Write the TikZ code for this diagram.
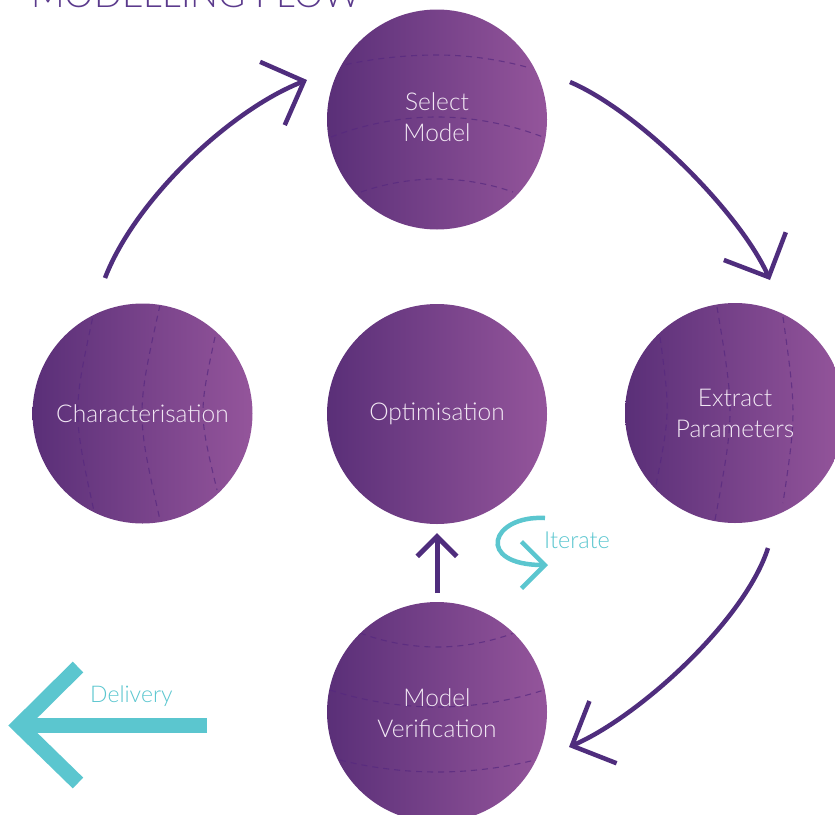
\documentclass[tikz,border=0pt]{standalone}
\usepackage{fontspec}
\setmainfont{Lato Light}
\usetikzlibrary{arrows.meta,calc}
\definecolor{sphL}{HTML}{5A2F78}
\definecolor{sphR}{HTML}{94559B}
\definecolor{flowc}{HTML}{4F2D7D}
\definecolor{cyanc}{HTML}{5BC6CF}
\definecolor{dashc}{HTML}{56287F}
\definecolor{labc}{HTML}{F2E8F4}
\definecolor{titlec}{HTML}{5B3A8C}
\tikzset{
  sphere/.style={circle, minimum size=220pt, inner sep=0pt, left color=sphL, right color=sphR},
  sphlabel/.style={text=labc, font=\fontsize{24.5}{31}\selectfont, align=center, inner sep=0pt},
  lat/.style={dashc, opacity=0.7, line width=1.1pt, dash pattern=on 6pt off 5pt},
  flow/.style={flowc, line width=4.5pt, -{Straight Barb[angle=90:48pt]}},
  cyanlab/.style={anchor=base west, inner sep=0pt, text=cyanc}
}
\begin{document}
\begin{tikzpicture}[x=1pt,y=-1pt]
\useasboundingbox (0,0) rectangle (835,814);
\clip (0,0) rectangle (835,814);

% title (cut off by the top edge, as in the reference)
\node[anchor=base west, inner sep=0pt, text=titlec, font=\fontsize{37}{40}\selectfont] (title) at (31,7.5) {MODELLING FLOW};

% spheres
\node[sphere] (sel) at (437,119.5) {};
\node[sphere] (char) at (142.5,413.5) {};
\node[sphere] (opt) at (437,414) {};
\node[sphere] (ext) at (735,413) {};
\node[sphere] (ver) at (437,712) {};

% dashed latitude / meridian lines
\begin{scope}
  \clip (sel) circle (109pt);
  \begin{scope}[shift={(sel)}]
    \draw[lat] (-102,-52.5) parabola bend (0,-64.5) (93,-51.5);
    \draw[lat] (-106,17.5) parabola bend (0,-2.5) (106,17.5);
    \draw[lat] (-76,72.5) parabola bend (0,59.5) (76,72.5);
  \end{scope}
\end{scope}
\begin{scope}
  \clip (ver) circle (109pt);
  \begin{scope}[shift={(ver)}]
    \draw[lat] (-77,-79) parabola bend (0,-65) (77,-79);
    \draw[lat] (-107,-22) parabola bend (0,-5) (107,-22);
    \draw[lat] (-97,48) parabola bend (0,60) (98,48);
  \end{scope}
\end{scope}
\begin{scope}
  \clip (char) circle (109pt);
  \begin{scope}[shift={(char)}]
    \draw[lat] (-50,-95) .. controls (-70,-1) .. (-48,100);
    \draw[lat] (17.5,-108.5) .. controls (-6.5,0) .. (17.5,106.5);
    \draw[lat] (72.5,-76.5) .. controls (56.2,0) .. (74.5,76.5);
  \end{scope}
\end{scope}
\begin{scope}
  \clip (ext) circle (109pt);
  \begin{scope}[shift={(ext)}]
    \draw[lat] (-75,-76) .. controls (-64.8,0) .. (-80,77);
    \draw[lat] (-18,-106) .. controls (-0.3,0) .. (-20,107);
    \draw[lat] (48,-96) .. controls (61.3,0) .. (48,90);
  \end{scope}
\end{scope}

% sphere labels
\node[sphlabel] (selT) at ($(sel)+(0,-2)$) {Select\\Model};
\node[sphlabel] (charT) at (char) {Characterisation};
\node[sphlabel] (optT) at (opt) {Optimisation};
\node[sphlabel] (extT) at (ext) {Extract\\Parameters};
\node[sphlabel] (verT) at ($(ver)+(0,1)$) {Model\\Verification};

% cycle arrows
\coordinate (a1s) at ($(char)+(-37.5,-135.5)$);
\coordinate (a1e) at ($(sel)+(-130,-39.5)$);
\draw[flow] (a1s) .. controls (135,200) and (230,110) .. (a1e);

\coordinate (a2s) at ($(sel)+(133,-37.5)$);
\coordinate (a2e) at ($(ext)+(35,-133)$);
\draw[flow] (a2s) .. controls (640,112) and (740,213) .. (a2e);

\coordinate (a3s) at ($(ext)+(33,135)$);
\coordinate (a3e) at ($(ver)+(132,35)$);
\draw[flow] (a3s) .. controls (745,620) and (640,716) .. (a3e);

\coordinate (a4s) at ($(ver)+(0,-119)$);
\coordinate (a4e) at ($(opt)+(0,119)$);
\draw[flow, line width=5pt, -{Straight Barb[angle=90:28pt]}] (a4s) -- (a4e);

% iterate
\coordinate (itS) at (545,518);
\coordinate (itE) at (548,565);
\draw[cyanc, line width=4.5pt, -{Straight Barb[angle=90:33pt]}] (itS) .. controls (490,515) and (475,565) .. (itE);
\node[cyanlab, font=\fontsize{23.5}{25}\selectfont] (itl) at (544,548) {Iterate};

% delivery
\coordinate (dS) at (207,725.5);
\coordinate (dV) at (19,725.5);
\coordinate (dA) at (78,667);
\coordinate (dB) at (78,783);
\draw[cyanc, line width=15pt] (dS) -- (dV);
\draw[cyanc, line width=15pt, miter limit=10] (dA) -- (dV) -- (dB);
\node[cyanlab, font=\fontsize{23}{25}\selectfont] (dl) at (90,702) {Delivery};
\end{tikzpicture}
\end{document}
